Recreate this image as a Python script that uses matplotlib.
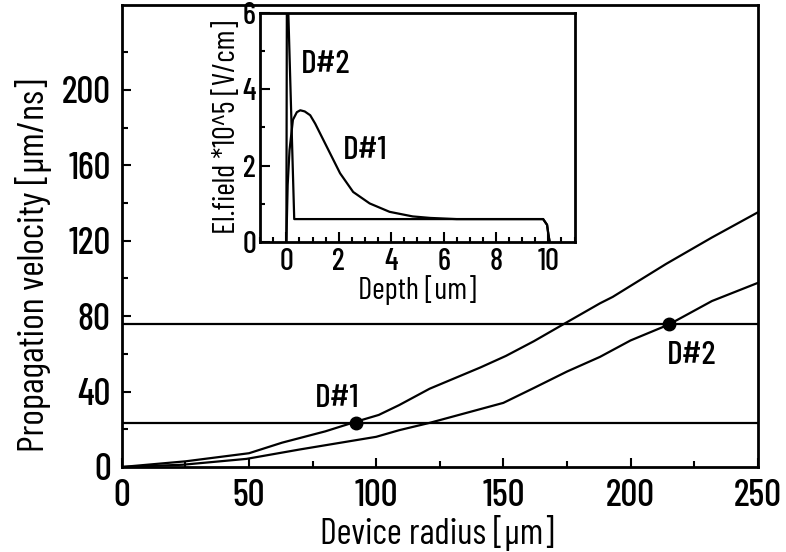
import matplotlib
matplotlib.use("Agg")
import matplotlib.pyplot as plt
from matplotlib.ticker import MultipleLocator, FixedLocator

plt.rcParams['font.family'] = ['Barlow Condensed', 'DejaVu Sans']
plt.rcParams['font.weight'] = 500

# Main chart data: propagation velocity vs device radius
d1_radius = [0, 25, 50, 63, 80, 92, 101, 109, 121, 141, 151, 162, 174, 188, 193, 214, 232, 250]
d1_velocity = [0, 3, 7.3, 12.9, 18.9, 24, 27.6, 32.8, 41.5, 52.8, 58.9, 66.7, 76, 86.8, 90.2, 107.7, 121.7, 135]

d2_radius = [0, 24, 49, 70, 100, 109, 121, 150, 162, 175, 188, 200, 215, 232, 250]
d2_velocity = [0, 1.2, 4.3, 9.3, 16, 19.5, 23.4, 34, 41.9, 50.6, 58.4, 67.1, 75.5, 88, 97.6]

hline_levels = [23.5, 76]
marker_radius = [92, 215]
marker_velocity = [23.5, 76]
marker_labels = ["D#1", "D#2"]
marker_label_pos = [(84.5, 36.5), (224, 59)]

y_major_ticks = [0, 40, 80, 120, 160, 200]
y_minor_ticks = [20, 60, 100, 140, 180, 220]

# Inset data: electric field vs depth
d1_depth = [0, 0.05, 0.12, 0.25, 0.4, 0.53, 0.7, 0.91, 1.1, 1.29, 1.67, 2.05, 2.55, 3.18, 3.94, 4.82, 5.5, 6.5, 9.8, 9.95, 10.0, 10.05]
d1_field = [0, 1.5, 2.4, 3.2, 3.4, 3.45, 3.42, 3.32, 3.1, 2.84, 2.32, 1.8, 1.31, 1.01, 0.79, 0.67, 0.63, 0.6, 0.6, 0.45, 0.2, 0]

d2_depth = [0, 0.02, 0.05, 0.3, 9.8, 9.95, 10.0, 10.05]
d2_field = [0, 6.6, 6.6, 0.6, 0.6, 0.45, 0.2, 0]

inset_labels = ["D#2", "D#1"]
inset_label_pos = [(1.5, 4.65), (3.0, 2.4)]

fig = plt.figure(figsize=(7.86, 5.52), dpi=100)
ax = fig.add_axes([0.155, 0.154, 0.809, 0.837])

ax.plot(d1_radius, d1_velocity, color='black', lw=1.6)
ax.plot(d2_radius, d2_velocity, color='black', lw=1.6)
for lvl in hline_levels:
    ax.axhline(lvl, color='black', lw=1.6)
ax.plot(marker_radius, marker_velocity, 'o', color='black', ms=9)
for lab, (x, y) in zip(marker_labels, marker_label_pos):
    ax.text(x, y, lab, fontsize=24, ha='center', va='center')

ax.set_xlim(0, 250)
ax.set_ylim(0, 245)
ax.xaxis.set_major_locator(MultipleLocator(50))
ax.xaxis.set_minor_locator(MultipleLocator(25))
ax.yaxis.set_major_locator(FixedLocator(y_major_ticks))
ax.yaxis.set_minor_locator(FixedLocator(y_minor_ticks))
ax.tick_params(which='both', direction='in', width=1.5, labelsize=27, top=False, right=False)
ax.tick_params(which='major', length=6.5)
ax.tick_params(which='minor', length=4)
ax.tick_params(axis='x', pad=9)
ax.tick_params(axis='y', pad=8)
for s in ax.spines.values():
    s.set_linewidth(2)
ax.set_xlabel("Device radius [μm]", fontsize=26)
ax.set_ylabel("Propagation velocity [μm/ns]", fontsize=27)
ax.xaxis.set_label_coords(0.496, -0.103)
ax.yaxis.set_label_coords(-0.11, 0.437)

# Inset
ins = fig.add_axes([0.331, 0.5616, 0.4, 0.415])
ins.plot(d2_depth, d2_field, color='black', lw=1.6)
ins.plot(d1_depth, d1_field, color='black', lw=1.6)
for lab, (x, y) in zip(inset_labels, inset_label_pos):
    ins.text(x, y, lab, fontsize=24, ha='center', va='center')
ins.set_xlim(-1, 11)
ins.set_ylim(0, 6)
ins.xaxis.set_major_locator(MultipleLocator(2))
ins.xaxis.set_minor_locator(MultipleLocator(0.5))
ins.yaxis.set_major_locator(MultipleLocator(2))
ins.yaxis.set_minor_locator(MultipleLocator(1))
ins.tick_params(which='both', direction='in', width=1.5, labelsize=22, top=False, right=False)
ins.tick_params(which='major', length=7)
ins.tick_params(which='minor', length=3.5)
ins.tick_params(axis='x', pad=4)
ins.tick_params(axis='y', pad=3)
for s in ins.spines.values():
    s.set_linewidth(2)
ins.set_xlabel("Depth [um]", fontsize=22, labelpad=0)
ins.set_ylabel("El.field *10^5 [V/cm]", fontsize=22, labelpad=1)

fig.savefig("out.png", dpi=100)
